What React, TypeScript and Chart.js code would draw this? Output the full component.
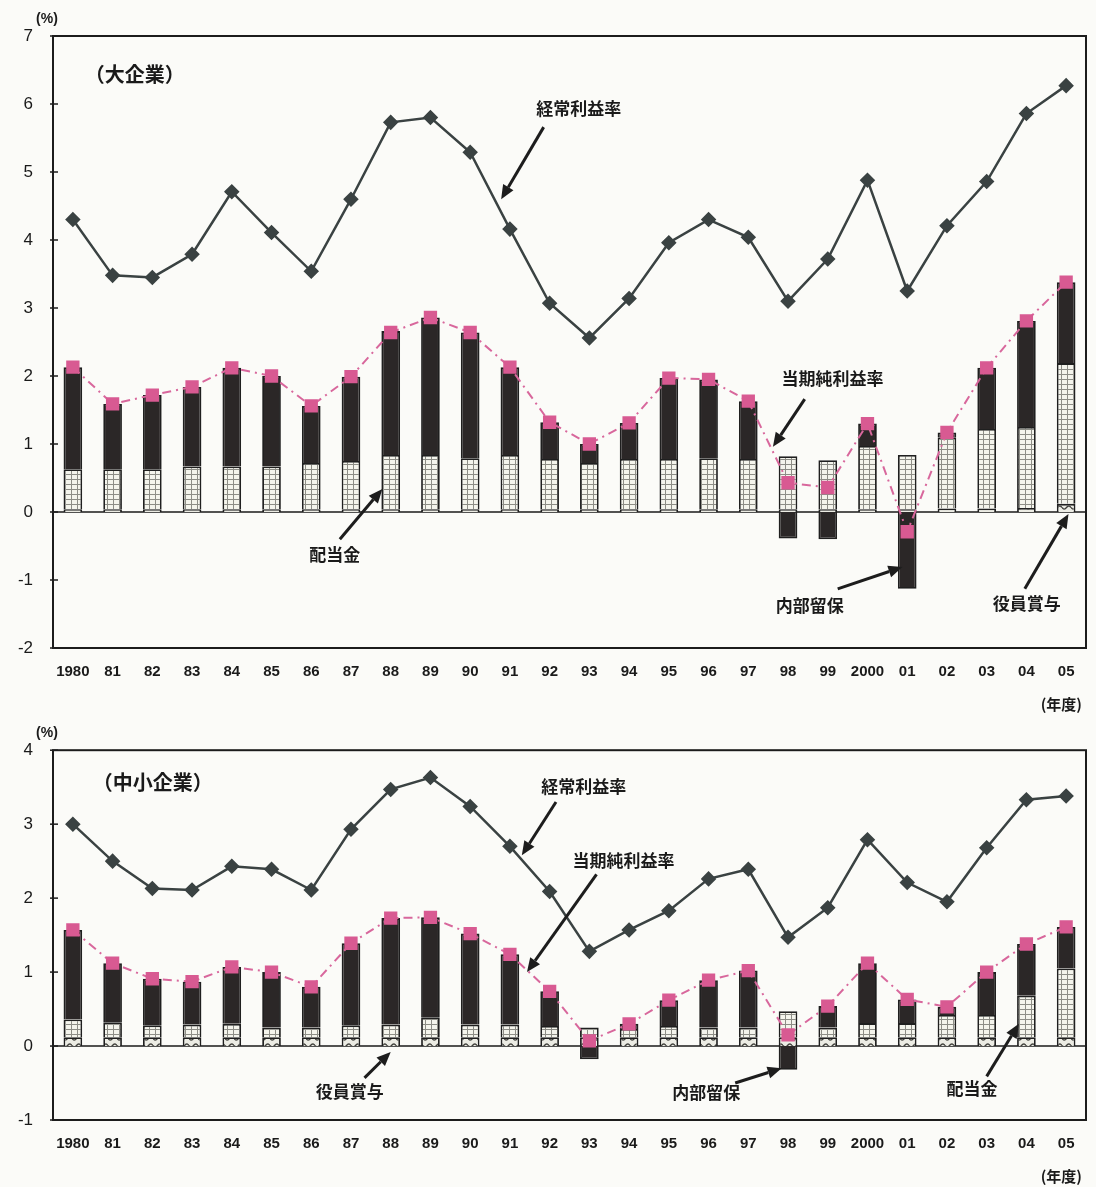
import React, { useEffect, useRef } from 'react';
import { Chart, registerables } from 'chart.js';

Chart.register(...registerables);

// ---- data ----
const years = ['1980', '81', '82', '83', '84', '85', '86', '87', '88', '89', '90', '91', '92', '93', '94', '95', '96', '97', '98', '99', '2000', '01', '02', '03', '04', '05'];

// 大企業
const largeOrdinary = [4.30, 3.48, 3.45, 3.79, 4.71, 4.11, 3.54, 4.60, 5.73, 5.80, 5.29, 4.16, 3.07, 2.56, 3.14, 3.96, 4.30, 4.04, 3.10, 3.72, 4.88, 3.25, 4.21, 4.86, 5.86, 6.27];
const largeNet = [2.13, 1.59, 1.72, 1.84, 2.12, 2.00, 1.56, 1.99, 2.64, 2.86, 2.64, 2.13, 1.32, 1.00, 1.31, 1.97, 1.95, 1.63, 0.43, 0.36, 1.30, -0.29, 1.17, 2.12, 2.81, 3.38];
const largeBonus = [0.04, 0.04, 0.04, 0.04, 0.04, 0.04, 0.04, 0.04, 0.04, 0.04, 0.04, 0.04, 0.04, 0.04, 0.04, 0.04, 0.04, 0.04, 0.04, 0.04, 0.04, 0.04, 0.05, 0.05, 0.06, 0.12];
const largeDividend = [0.59, 0.59, 0.59, 0.63, 0.63, 0.63, 0.68, 0.71, 0.80, 0.80, 0.75, 0.80, 0.74, 0.68, 0.74, 0.74, 0.75, 0.74, 0.78, 0.72, 0.93, 0.80, 1.05, 1.17, 1.19, 2.07];
const largeReserve = [1.50, 0.96, 1.09, 1.17, 1.45, 1.33, 0.84, 1.24, 1.82, 2.02, 1.85, 1.29, 0.54, 0.28, 0.53, 1.19, 1.16, 0.85, -0.39, -0.40, 0.33, -1.13, 0.07, 0.90, 1.56, 1.19];

// 中小企業
const smeOrdinary = [3.00, 2.50, 2.13, 2.11, 2.43, 2.39, 2.11, 2.93, 3.47, 3.63, 3.24, 2.70, 2.09, 1.28, 1.57, 1.83, 2.26, 2.39, 1.47, 1.87, 2.79, 2.21, 1.95, 2.68, 3.33, 3.38];
const smeNet = [1.57, 1.12, 0.91, 0.87, 1.07, 1.00, 0.80, 1.39, 1.73, 1.74, 1.52, 1.24, 0.74, 0.07, 0.30, 0.62, 0.89, 1.02, 0.15, 0.54, 1.12, 0.63, 0.53, 1.00, 1.38, 1.61];
const smeBonus = [0.12, 0.12, 0.12, 0.12, 0.12, 0.12, 0.12, 0.12, 0.12, 0.12, 0.12, 0.12, 0.12, 0.12, 0.12, 0.12, 0.12, 0.12, 0.12, 0.12, 0.12, 0.12, 0.12, 0.12, 0.12, 0.12];
const smeDividend = [0.24, 0.20, 0.16, 0.17, 0.18, 0.13, 0.13, 0.16, 0.17, 0.27, 0.17, 0.17, 0.15, 0.13, 0.11, 0.15, 0.13, 0.13, 0.35, 0.13, 0.19, 0.19, 0.30, 0.30, 0.56, 0.93];
const smeReserve = [1.21, 0.80, 0.63, 0.58, 0.77, 0.75, 0.55, 1.11, 1.44, 1.35, 1.23, 0.95, 0.47, -0.18, 0.07, 0.35, 0.64, 0.77, -0.32, 0.29, 0.81, 0.32, 0.11, 0.58, 0.70, 0.56];

const largeRange = { min: -2, max: 7 };
const smeRange = { min: -1, max: 4 };

// ---- annotations (in data space: category index, value) ----
type Note = { text: string; x: number; y: number; align?: CanvasTextAlign; size?: number };
type Arrow = { x1: number; y1: number; x2: number; y2: number };

const largeNotes: Note[] = [
  { text: '（大企業）', x: 0.3, y: 6.44, align: 'left', size: 20 },
  { text: '経常利益率', x: 12.73, y: 5.93 },
  { text: '当期純利益率', x: 19.12, y: 1.96 },
  { text: '配当金', x: 6.59, y: -0.63 },
  { text: '内部留保', x: 18.55, y: -1.37 },
  { text: '役員賞与', x: 24.01, y: -1.35 },
];
const largeArrows: Arrow[] = [
  { x1: 11.85, y1: 5.66, x2: 10.78, y2: 4.60 },
  { x1: 18.42, y1: 1.66, x2: 17.62, y2: 0.96 },
  { x1: 6.72, y1: -0.40, x2: 7.79, y2: 0.34 },
  { x1: 19.25, y1: -1.13, x2: 20.88, y2: -0.81 },
  { x1: 23.96, y1: -1.13, x2: 25.06, y2: -0.03 },
];
const smeNotes: Note[] = [
  { text: '（中小企業）', x: 0.5, y: 3.57, align: 'left', size: 20 },
  { text: '経常利益率', x: 12.86, y: 3.51 },
  { text: '当期純利益率', x: 13.86, y: 2.51 },
  { text: '役員賞与', x: 6.97, y: -0.61 },
  { text: '内部留保', x: 15.94, y: -0.63 },
  { text: '配当金', x: 22.63, y: -0.58 },
];
const smeArrows: Arrow[] = [
  { x1: 12.16, y1: 3.30, x2: 11.30, y2: 2.58 },
  { x1: 13.18, y1: 2.32, x2: 11.43, y2: 1.00 },
  { x1: 7.34, y1: -0.43, x2: 8.0, y2: -0.08 },
  { x1: 16.67, y1: -0.50, x2: 17.84, y2: -0.30 },
  { x1: 23.0, y1: -0.41, x2: 23.81, y2: 0.30 },
];

// ---- patterns ----
function makeGridPattern(): CanvasPattern | string {
  const c = document.createElement('canvas');
  c.width = 6;
  c.height = 5;
  const g = c.getContext('2d');
  if (!g) return '#eeeee6';
  g.fillStyle = '#f4f4ec';
  g.fillRect(0, 0, 6, 5);
  g.fillStyle = '#8d8d86';
  g.fillRect(0, 4, 6, 1);
  g.fillRect(5, 0, 1, 5);
  return g.createPattern(c, 'repeat') || '#eeeee6';
}
function makeWavePattern(): CanvasPattern | string {
  const c = document.createElement('canvas');
  c.width = 9;
  c.height = 7;
  const g = c.getContext('2d');
  if (!g) return '#ccc';
  g.fillStyle = '#ecece4';
  g.fillRect(0, 0, 9, 7);
  g.strokeStyle = '#3e3e3a';
  g.lineWidth = 1.4;
  g.beginPath();
  for (let i = 0; i <= 9; i++) {
    const yy = 3.5 + 1.6 * Math.sin((i / 9) * Math.PI * 2);
    if (i === 0) g.moveTo(i, yy);
    else g.lineTo(i, yy);
  }
  g.stroke();
  return g.createPattern(c, 'repeat') || '#ccc';
}

function drawArrow(ctx: CanvasRenderingContext2D, x1: number, y1: number, x2: number, y2: number) {
  const ang = Math.atan2(y2 - y1, x2 - x1);
  const hl = 14;
  const hw = 6;
  const bx = x2 - hl * Math.cos(ang);
  const by = y2 - hl * Math.sin(ang);
  ctx.save();
  ctx.strokeStyle = '#1d1d1d';
  ctx.fillStyle = '#1d1d1d';
  ctx.lineWidth = 3;
  ctx.beginPath();
  ctx.moveTo(x1, y1);
  ctx.lineTo(bx, by);
  ctx.stroke();
  ctx.beginPath();
  ctx.moveTo(x2, y2);
  ctx.lineTo(bx + hw * Math.sin(ang), by - hw * Math.cos(ang));
  ctx.lineTo(bx - hw * Math.sin(ang), by + hw * Math.cos(ang));
  ctx.closePath();
  ctx.fill();
  ctx.restore();
}

const decorPlugin = {
  id: 'decor',
  beforeDatasetsDraw(chart: any) {
    const { ctx, chartArea, scales } = chart;
    const y0 = scales.y.getPixelForValue(0);
    ctx.save();
    ctx.strokeStyle = '#1a1a1a';
    ctx.lineWidth = 1.5;
    ctx.beginPath();
    ctx.moveTo(chartArea.left, y0);
    ctx.lineTo(chartArea.right, y0);
    ctx.stroke();
    ctx.restore();
  },
  afterDraw(chart: any, _args: any, opts: any) {
    const { ctx, chartArea, scales } = chart;
    const xs = scales.x;
    const ys = scales.y;
    ctx.save();
    // frame
    ctx.strokeStyle = '#1c1c1c';
    ctx.lineWidth = 2;
    ctx.strokeRect(chartArea.left, chartArea.top, chartArea.right - chartArea.left, chartArea.bottom - chartArea.top);
    // tick marks on the left axis
    ctx.lineWidth = 1.5;
    ys.ticks.forEach((t: any) => {
      const py = ys.getPixelForValue(t.value);
      ctx.beginPath();
      ctx.moveTo(chartArea.left - 3, py);
      ctx.lineTo(chartArea.left + 5, py);
      ctx.stroke();
    });
    // unit labels
    ctx.fillStyle = '#1a1a1a';
    ctx.font = 'bold 14px "Liberation Sans", Arial, sans-serif';
    ctx.textAlign = 'center';
    ctx.textBaseline = 'middle';
    ctx.fillText('(%)', chartArea.left - 6, chartArea.top - 17);
    ctx.font = 'bold 15px "Noto Sans CJK JP", sans-serif';
    ctx.textAlign = 'right';
    ctx.fillText('(年度)', chartArea.right - 4, chartArea.bottom + 56);
    // notes
    (opts.notes || []).forEach((n: Note) => {
      ctx.font = `bold ${n.size || 17}px "Noto Sans CJK JP", sans-serif`;
      ctx.textAlign = n.align || 'center';
      ctx.textBaseline = 'middle';
      ctx.fillText(n.text, xs.getPixelForValue(n.x), ys.getPixelForValue(n.y));
    });
    (opts.arrows || []).forEach((a: Arrow) => {
      drawArrow(ctx, xs.getPixelForValue(a.x1), ys.getPixelForValue(a.y1), xs.getPixelForValue(a.x2), ys.getPixelForValue(a.y2));
    });
    ctx.restore();
  },
};

type PanelProps = {
  top: number;
  height: number;
  padTop: number;
  xAxisHeight: number;
  ordinary: number[];
  net: number[];
  bonus: number[];
  dividend: number[];
  reserve: number[];
  range: { min: number; max: number };
  notes: Note[];
  arrows: Arrow[];
};

function Panel(p: PanelProps) {
  const ref = useRef<HTMLCanvasElement | null>(null);
  useEffect(() => {
    if (!ref.current) return;
    const gridPat = makeGridPattern();
    const wavePat = makeWavePattern();
    const barCommon = {
      type: 'bar' as const,
      stack: 'bars',
      order: 2,
      barPercentage: 0.47,
      categoryPercentage: 1,
      borderColor: '#1f1f1f',
      borderWidth: 1.8,
    };
    const chart = new Chart(ref.current, {
      type: 'bar',
      data: {
        labels: years,
        datasets: [
          {
            type: 'line',
            label: '経常利益率',
            data: p.ordinary,
            borderColor: '#3a4242',
            backgroundColor: '#3a4242',
            borderWidth: 2.5,
            pointStyle: 'rectRot',
            pointRadius: 6,
            pointBackgroundColor: '#3a4242',
            pointBorderColor: '#3a4242',
            stack: 'ord',
            order: 0,
            tension: 0,
          } as any,
          {
            type: 'line',
            label: '当期純利益率',
            data: p.net,
            borderColor: '#d8679c',
            backgroundColor: '#d95c93',
            borderWidth: 2,
            borderDash: [9, 5, 2, 5],
            pointStyle: 'rect',
            pointRadius: 8,
            pointBackgroundColor: '#d85a92',
            pointBorderColor: '#d85a92',
            stack: 'net',
            order: 1,
            tension: 0,
          } as any,
          { ...barCommon, label: '役員賞与', data: p.bonus, backgroundColor: wavePat } as any,
          { ...barCommon, label: '配当金', data: p.dividend, backgroundColor: gridPat } as any,
          { ...barCommon, label: '内部留保', data: p.reserve, backgroundColor: '#2b2727' } as any,
        ],
      },
      options: {
        animation: false,
        responsive: false,
        devicePixelRatio: 1,
        layout: { padding: { top: p.padTop, right: 6, left: 0, bottom: 0 } },
        plugins: {
          legend: { display: false },
          tooltip: { enabled: false },
          decor: { notes: p.notes, arrows: p.arrows },
        } as any,
        scales: {
          x: {
            stacked: true,
            grid: { display: false, drawTicks: false },
            border: { display: false },
            ticks: {
              color: '#1a1a1a',
              padding: 15,
              maxRotation: 0,
              autoSkip: false,
              font: { family: '"Liberation Sans", Arial, sans-serif', size: 15, weight: 'bold' },
            },
            afterFit: (s: any) => {
              s.height = p.xAxisHeight;
            },
          },
          y: {
            stacked: true,
            min: p.range.min,
            max: p.range.max,
            grid: { display: false, drawTicks: false },
            border: { display: false },
            ticks: {
              stepSize: 1,
              color: '#1a1a1a',
              padding: 20,
              font: { family: '"Liberation Sans", Arial, sans-serif', size: 17 },
            },
            afterFit: (s: any) => {
              s.width = 53;
            },
          },
        },
      },
      plugins: [decorPlugin],
    });
    return () => chart.destroy();
  }, []);
  return (
    <canvas
      ref={ref}
      width={1096}
      height={p.height}
      style={{ position: 'absolute', left: 0, top: p.top, width: 1096, height: p.height }}
    />
  );
}

export default function App() {
  return (
    <div style={{ position: 'absolute', left: 0, top: 0, width: 1096, height: 1187, background: '#fbfbf8', overflow: 'hidden' }}>
      <Panel
        top={0}
        height={720}
        padTop={36}
        xAxisHeight={72}
        ordinary={largeOrdinary}
        net={largeNet}
        bonus={largeBonus}
        dividend={largeDividend}
        reserve={largeReserve}
        range={largeRange}
        notes={largeNotes}
        arrows={largeArrows}
      />
      <Panel
        top={720}
        height={467}
        padTop={20}
        xAxisHeight={67}
        ordinary={smeOrdinary}
        net={smeNet}
        bonus={smeBonus}
        dividend={smeDividend}
        reserve={smeReserve}
        range={smeRange}
        notes={smeNotes}
        arrows={smeArrows}
      />
    </div>
  );
}
